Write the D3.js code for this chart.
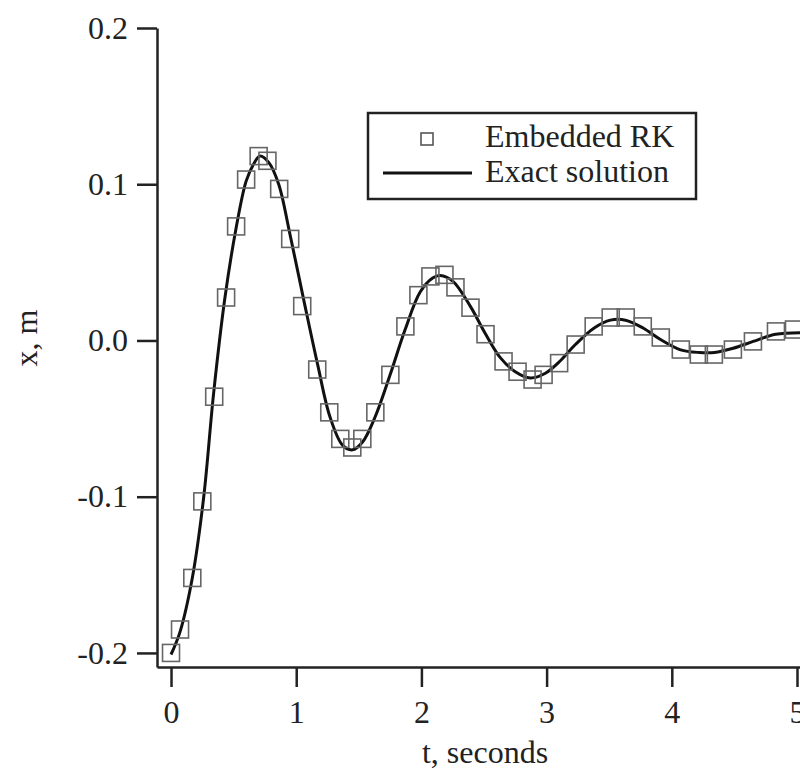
<!DOCTYPE html>
<html>
<head>
<meta charset="utf-8">
<script src="https://cdn.jsdelivr.net/npm/d3@7"></script>
<style>
  body { margin: 0; background: #fff; }
  svg text { font-family: "Liberation Serif", "Times New Roman", serif; fill: #222; }
</style>
</head>
<body>
<div id="chart"></div>
<script>
// Embedded RK samples
const rkT = [0, 0.072, 0.17, 0.25, 0.345, 0.44, 0.52, 0.6, 0.70, 0.77, 0.864, 0.952, 1.048, 1.168, 1.264, 1.352, 1.448, 1.528, 1.632,
  1.752, 1.872, 1.976, 2.072, 2.184, 2.272, 2.392, 2.512, 2.656, 2.768, 2.888, 2.976, 3.1,
  3.232, 3.376, 3.512, 3.632, 3.768, 3.912, 4.072, 4.216, 4.336, 4.488, 4.648, 4.832, 4.976];
const rkX = [-0.2, -0.185, -0.152, -0.103, -0.036, 0.0275, 0.073, 0.103, 0.118, 0.115, 0.097, 0.065, 0.022, -0.0186, -0.046, -0.063, -0.0685, -0.063, -0.046,
  -0.022, 0.009, 0.029, 0.041, 0.042, 0.034, 0.021, 0.004, -0.0134, -0.020, -0.025, -0.022, -0.0145,
  -0.0026, 0.009, 0.0147, 0.0147, 0.009, 0.0019, -0.0058, -0.009, -0.009, -0.0058, -0.0006, 0.0058, 0.007];

// exact solution
const exT = [0, 0.07, 0.17, 0.26, 0.34, 0.43, 0.52, 0.6, 0.66, 0.71, 0.78, 0.86, 0.95, 1.06, 1.17, 1.27, 1.37, 1.45, 1.53, 1.63,
  1.75, 1.87, 1.99, 2.09, 2.15, 2.25, 2.39, 2.51, 2.63, 2.75, 2.87, 2.99, 3.11, 3.23, 3.38, 3.51, 3.63, 3.77, 3.91,
  4.07, 4.22, 4.34, 4.49, 4.65, 4.83, 5.03];
const exX = [-0.201, -0.187, -0.152, -0.101, -0.034, 0.027, 0.072, 0.102, 0.113, 0.118, 0.114, 0.100, 0.068, 0.026, -0.015, -0.049, -0.067, -0.070, -0.065, -0.049,
  -0.022, 0.007, 0.031, 0.040, 0.0416, 0.038, 0.022, 0.0045, -0.011, -0.020, -0.024, -0.021, -0.013, -0.0026, 0.008, 0.013, 0.013, 0.008, 0.0006,
  -0.006, -0.0077, -0.0077, -0.005, -0.0006, 0.004, 0.005];

const xTicks = [0, 1, 2, 3, 4, 5];
const yTicks = [-0.2, -0.1, 0.0, 0.1, 0.2];
const legendItems = ["Embedded RK", "Exact solution"];

const W = 800, H = 778;
const margin = {top: 28, right: 0, bottom: 111, left: 157};

const svg = d3.select("#chart").append("svg")
  .attr("width", W)
  .attr("height", H);

const x = d3.scaleLinear()
  .domain([-0.112, 5.024])
  .range([margin.left, W - margin.right]);

const y = d3.scaleLinear()
  .domain([-0.209, 0.2])
  .range([H - margin.bottom, margin.top]);

// plain hyphen for negatives, like the original
const fmtY = function(d){ return d3.format(".1f")(d).replace("\u2212", "-"); };

const xAxis = d3.axisBottom(x)
  .tickValues(xTicks)
  .tickFormat(d3.format("d"))
  .tickSize(20)
  .tickPadding(13)
  .tickSizeOuter(0);

const yAxis = d3.axisLeft(y)
  .tickValues(yTicks)
  .tickFormat(fmtY)
  .tickSize(20)
  .tickPadding(9)
  .tickSizeOuter(0);

const gx = svg.append("g")
  .attr("transform", "translate(0," + (H - margin.bottom) + ")")
  .call(xAxis);

const gy = svg.append("g")
  .attr("transform", "translate(" + margin.left + ",0)")
  .call(yAxis);

[gx, gy].forEach(function(g){
  g.select(".domain").attr("stroke", "#222").attr("stroke-width", 2.5);
  g.selectAll(".tick line").attr("stroke", "#222").attr("stroke-width", 2.5);
  g.selectAll(".tick text")
    .attr("font-size", 32)
    .attr("fill", "#222")
    .style("font-family", "Liberation Serif, serif");
});

// axis titles
svg.append("text")
  .attr("x", 485)
  .attr("y", 763)
  .attr("text-anchor", "middle")
  .attr("font-size", 32)
  .text("t, seconds");

svg.append("text")
  .attr("transform", "translate(37,338) rotate(-90)")
  .attr("text-anchor", "middle")
  .attr("font-size", 32)
  .text("x, m");

// exact solution curve
const exData = exT.map(function(t, i){ return {t: t, v: exX[i]}; });
const line = d3.line()
  .curve(d3.curveCatmullRom)
  .x(function(d){ return x(d.t); })
  .y(function(d){ return y(d.v); });

svg.append("path")
  .datum(exData)
  .attr("fill", "none")
  .attr("stroke", "#111")
  .attr("stroke-width", 3)
  .attr("stroke-linejoin", "round")
  .attr("d", line);

// RK squares
const sq = 17;
const rkData = rkT.map(function(t, i){ return {t: t, v: rkX[i]}; });
svg.selectAll(".rk")
  .data(rkData)
  .join("rect")
    .attr("class", "rk")
    .attr("x", function(d){ return x(d.t) - sq / 2; })
    .attr("y", function(d){ return y(d.v) - sq / 2; })
    .attr("width", sq)
    .attr("height", sq)
    .attr("fill", "none")
    .attr("stroke", "#666")
    .attr("stroke-width", 1.6);

// legend
const legend = svg.append("g");
legend.append("rect")
  .attr("x", 368)
  .attr("y", 113)
  .attr("width", 328)
  .attr("height", 86)
  .attr("fill", "#fff")
  .attr("stroke", "#222")
  .attr("stroke-width", 2.5);

legend.append("rect")
  .attr("x", 421)
  .attr("y", 133)
  .attr("width", 12)
  .attr("height", 12)
  .attr("fill", "none")
  .attr("stroke", "#555")
  .attr("stroke-width", 1.6);

legend.append("line")
  .attr("x1", 383)
  .attr("x2", 472)
  .attr("y1", 173)
  .attr("y2", 173)
  .attr("stroke", "#111")
  .attr("stroke-width", 3);

legend.selectAll(".leg-text")
  .data(legendItems)
  .join("text")
    .attr("class", "leg-text")
    .attr("x", 485)
    .attr("y", function(d, i){ return 147 + i * 35; })
    .attr("font-size", 32)
    .text(function(d){ return d; });
</script>
</body>
</html>
